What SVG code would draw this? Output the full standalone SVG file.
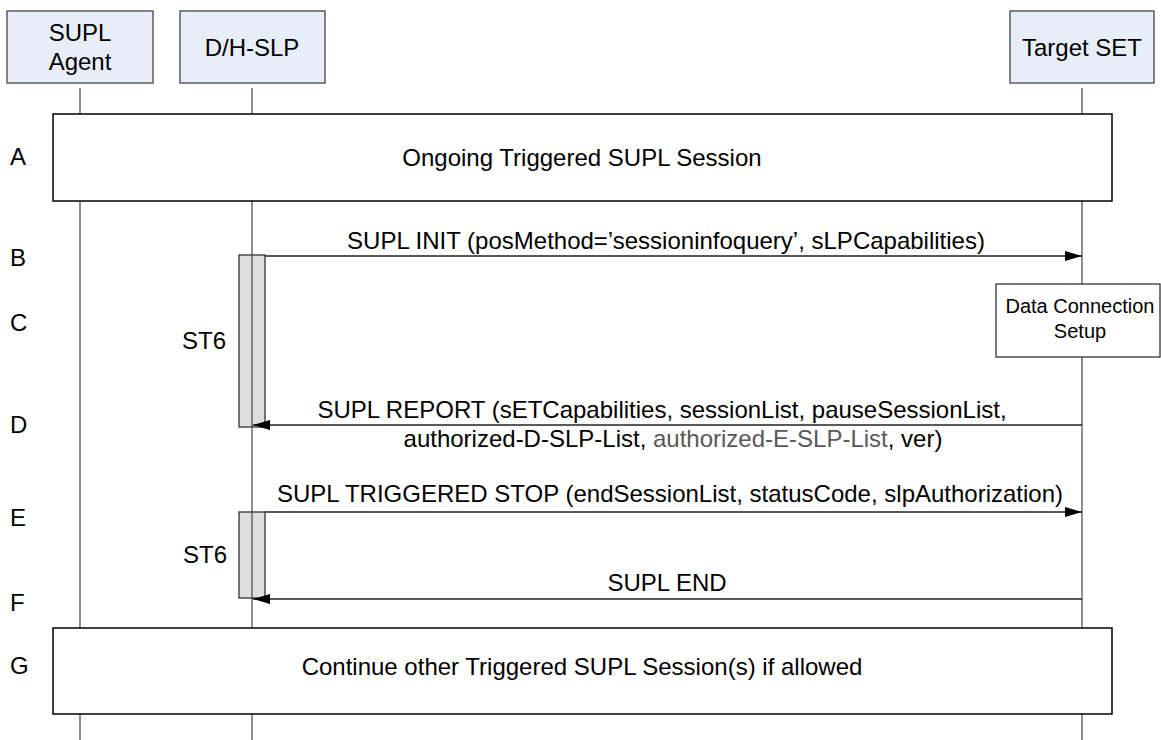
<svg xmlns="http://www.w3.org/2000/svg" width="1161" height="740" viewBox="0 0 1161 740">
<defs>
<style>
text{font-family:"Liberation Sans",Arial,sans-serif;font-size:24px;fill:#000}
.hdr{fill:#e8eef8;stroke:#444;stroke-width:1.3}
.life{stroke:#444;stroke-width:1.2;fill:none}
.frame{fill:#fff;stroke:#000;stroke-width:1.5}
.act{fill:#dedede;stroke:#333;stroke-width:1.3}
.msg{stroke:#222;stroke-width:1.3;fill:none}
.mid{text-anchor:middle}
.gray{fill:#595959}
</style>
<marker id="ah" markerWidth="17" markerHeight="10" refX="17" refY="5" orient="auto" markerUnits="userSpaceOnUse">
<path d="M0,0 L17,5 L0,10 Z" fill="#000"/>
</marker>
</defs>
<rect width="1161" height="740" fill="#fff"/>
<g id="lifelines">
<line class="life" x1="80" y1="88" x2="80" y2="740"/>
<line class="life" x1="252" y1="88" x2="252" y2="740"/>
<line class="life" x1="1082" y1="88" x2="1082" y2="740"/>
</g>
<g id="supl-agent"><rect class="hdr" x="7" y="11" width="146" height="72"/><text class="mid" x="80" y="41">SUPL</text><text class="mid" x="80" y="70">Agent</text></g>
<g id="dh-slp"><rect class="hdr" x="180" y="11" width="145" height="72"/><text class="mid" x="252" y="56">D/H-SLP</text></g>
<g id="target-set"><rect class="hdr" x="1010" y="11" width="144" height="72"/><text class="mid" x="1082" y="56">Target SET</text></g>
<g id="steps">
<text x="10" y="165">A</text>
<text x="10" y="266">B</text>
<text x="10" y="331">C</text>
<text x="10" y="433">D</text>
<text x="10" y="526">E</text>
<text x="10" y="611">F</text>
<text x="10" y="674">G</text>
</g>
<g id="frame-a"><rect class="frame" x="53" y="114" width="1059" height="87"/><text class="mid" x="582" y="166">Ongoing Triggered SUPL Session</text></g>
<g id="frame-g"><rect class="frame" x="53" y="628" width="1059" height="86"/><text class="mid" x="582" y="675">Continue other Triggered SUPL Session(s) if allowed</text></g>
<g id="st6-1"><rect class="act" x="239" y="255" width="26" height="172"/><line class="life" x1="252" y1="255" x2="252" y2="427"/><text x="182" y="349">ST6</text></g>
<g id="st6-2"><rect class="act" x="239" y="512" width="26" height="86"/><line class="life" x1="252" y1="512" x2="252" y2="598"/><text x="183" y="563">ST6</text></g>
<g id="data-conn"><rect x="996" y="284" width="164" height="73" fill="#fff" stroke="#333" stroke-width="1.3"/><text class="mid" x="1080" y="313" style="font-size:20px">Data Connection</text><text class="mid" x="1080" y="338" style="font-size:20px">Setup</text></g>
<g id="connectors">
<line class="msg" x1="265" y1="256" x2="1082" y2="256" marker-end="url(#ah)"/>
<text class="mid" x="666" y="249">SUPL INIT (posMethod=’sessioninfoquery’, sLPCapabilities)</text>
<line class="msg" x1="1082" y1="425" x2="253" y2="425" marker-end="url(#ah)"/>
<text class="mid" x="662" y="418">SUPL REPORT (sETCapabilities, sessionList, pauseSessionList,</text>
<text class="mid" x="673" y="447">authorized-D-SLP-List, <tspan class="gray">authorized-E-SLP-List</tspan>, ver)</text>
<line class="msg" x1="265" y1="512" x2="1082" y2="512" marker-end="url(#ah)"/>
<text class="mid" x="670" y="502">SUPL TRIGGERED STOP (endSessionList, statusCode, slpAuthorization)</text>
<line class="msg" x1="1082" y1="599" x2="253" y2="599" marker-end="url(#ah)"/>
<text class="mid" x="667" y="591">SUPL END</text>
</g>
</svg>
